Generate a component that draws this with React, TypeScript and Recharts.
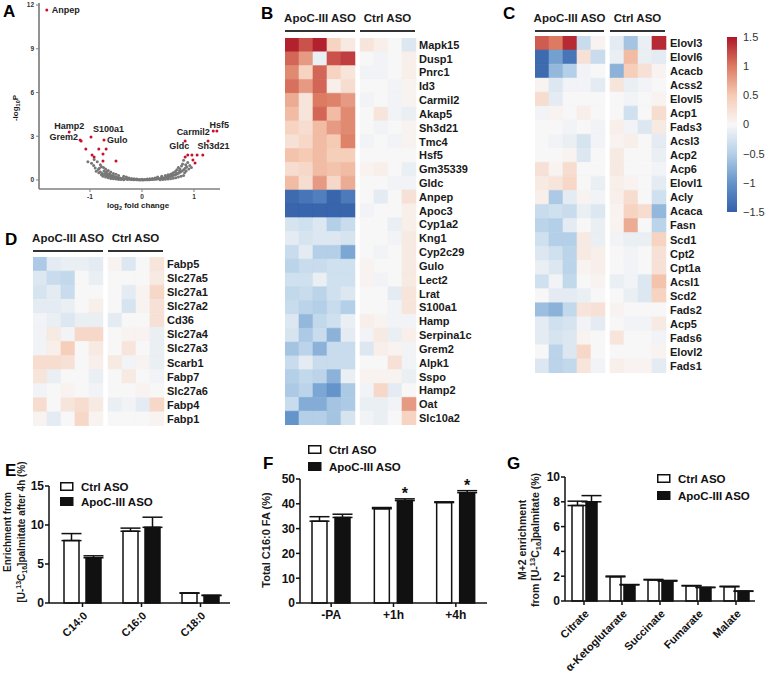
import React from 'react';
import { ScatterChart, Scatter, XAxis, YAxis, BarChart, Bar, Cell, ErrorBar, LabelList } from 'recharts';

const FONT = '"Liberation Sans", Arial, Helvetica, sans-serif';
const RED = '#c8102e';
const INK = '#111';

// ---------------- Panel A : volcano ----------------
const volcanoGrey: [number, number][] = [
  [-1.04, 1.25], [-0.97, 1.15], [-0.93, 1.0], [-0.9, 0.82], [-0.88, 0.6], [-0.84, 0.72], [-0.8, 0.55], [-0.78, 0.9],
  [-0.76, 0.45], [-0.73, 0.62], [-0.72, 0.38], [-0.7, 0.5], [-0.68, 0.3], [-0.66, 0.42], [-0.64, 0.26], [-0.62, 0.36],
  [-0.6, 0.22], [-0.58, 0.3], [-0.56, 0.18], [-0.54, 0.26], [-0.52, 0.15], [-0.5, 0.2], [-0.48, 0.12], [-0.46, 0.17],
  [-0.44, 0.1], [-0.42, 0.14], [-0.4, 0.08], [-0.37, 0.11], [-0.34, 0.06], [-0.31, 0.08], [-0.28, 0.04], [-0.25, 0.06],
  [-0.22, 0.03], [-0.19, 0.04], [-0.16, 0.02], [-0.13, 0.03], [-0.1, 0.01], [-0.07, 0.02], [-0.04, 0.0], [-0.01, 0.01],
  [0.02, 0.0], [0.05, 0.01], [0.08, 0.01], [0.11, 0.02], [0.14, 0.02], [0.17, 0.03], [0.2, 0.04], [0.23, 0.05],
  [0.26, 0.05], [0.29, 0.07], [0.32, 0.08], [0.35, 0.1], [0.38, 0.11], [0.41, 0.13], [0.44, 0.15], [0.47, 0.18],
  [0.5, 0.2], [0.53, 0.23], [0.56, 0.26], [0.59, 0.3], [0.62, 0.34], [0.65, 0.38], [0.68, 0.42], [0.71, 0.48],
  [0.74, 0.55], [0.77, 0.62], [0.8, 0.7], [0.83, 0.8], [0.86, 0.9],
  [0.45, 0.3], [0.5, 0.35], [0.55, 0.4], [0.6, 0.5], [0.64, 0.58], [0.67, 0.7], [0.7, 0.85], [0.73, 0.75],
  [0.76, 0.95], [0.78, 1.1], [0.8, 1.35], [0.84, 1.05], [0.88, 1.2], [0.92, 1.0], [0.95, 0.85], [0.9, 0.75],
  [-0.45, 0.3], [-0.5, 0.4], [-0.55, 0.45], [-0.6, 0.55], [-0.65, 0.65], [-0.7, 0.75], [-0.74, 0.85], [-0.8, 1.05],
  [-0.86, 1.25], [-0.92, 1.4], [-0.82, 0.8], [-0.3, 0.2], [-0.35, 0.25], [0.3, 0.2], [0.38, 0.25],
  [-0.2, 0.1], [-0.1, 0.06], [0.0, 0.05], [0.1, 0.06], [0.2, 0.1], [-0.25, 0.14], [0.25, 0.14], [-0.62, 0.45],
  [0.58, 0.42], [0.66, 0.5], [-0.68, 0.58], [0.72, 0.62],
  [-0.65, 0.15], [-0.6, 0.1], [-0.55, 0.08], [-0.5, 0.06], [-0.45, 0.04], [-0.4, 0.03], [-0.35, 0.02], [0.35, 0.02],
  [0.4, 0.03], [0.45, 0.05], [0.5, 0.07], [0.55, 0.09], [0.6, 0.12], [0.65, 0.16], [0.7, 0.2], [0.75, 0.25],
  [0.8, 0.3], [-0.7, 0.2], [-0.75, 0.25], [-0.3, 0.15], [0.3, 0.15], [-0.15, 0.08], [0.15, 0.08], [-0.05, 0.04],
  [0.05, 0.04], [0.82, 0.5], [0.85, 0.62], [-0.78, 0.35], [-0.83, 0.5],
];
const volcanoRed: [number, number][] = [
  [-1.17, 2.67], [1.37, 3.36], [-1.08, 2.13], [-0.83, 2.13], [-0.69, 2.13], [-0.96, 1.71], [-0.75, 1.78],
  [-0.92, 1.58], [-0.5, 1.3], [-0.75, 1.3], [0.88, 1.71], [0.96, 1.71], [1.06, 1.71], [1.17, 1.71],
  [0.98, 1.37], [1.02, 1.17],
];
const volcanoGenes = ['Anpep', 'Hamp2', 'Grem2', 'S100a1', 'Gulo', 'Carmil2', 'Gldc', 'Hsf5', 'Sh3d21'];
const volcanoGeneFC = [-1.83, -1.4, -1.19, -0.98, -0.73, 0.83, 0.83, 1.44, 1.27];
const volcanoGeneP = [11.66, 3.29, 2.74, 2.95, 2.74, 2.67, 1.58, 3.36, 2.67];
const labelPlacement: Record<string, { dx: number; dy: number; anchor: 'start' | 'middle' | 'end' }> = {
  Anpep: { dx: 5, dy: 0, anchor: 'start' },
  Hamp2: { dx: 0, dy: -6, anchor: 'middle' },
  Grem2: { dx: -2, dy: -3, anchor: 'end' },
  S100a1: { dx: 2, dy: -8, anchor: 'start' },
  Gulo: { dx: 3, dy: 0, anchor: 'start' },
  Carmil2: { dx: 8, dy: -9, anchor: 'middle' },
  Gldc: { dx: -6, dy: -11, anchor: 'middle' },
  Hsf5: { dx: 2.5, dy: -6, anchor: 'middle' },
  Sh3d21: { dx: 5.5, dy: 5, anchor: 'middle' },
};
const greyData = volcanoGrey.map(([x, y]) => ({ x, y }));
const redData = volcanoRed.map(([x, y]) => ({ x, y }));
const labelledData = volcanoGenes.map((gene, i) => ({ gene, x: volcanoGeneFC[i], y: volcanoGeneP[i] }));

// ---------------- Heatmaps (5 ApoC-III ASO | 4 Ctrl ASO) ----------------
const genesB = ['Mapk15', 'Dusp1', 'Pnrc1', 'Id3', 'Carmil2', 'Akap5', 'Sh3d21', 'Tmc4', 'Hsf5', 'Gm35339', 'Gldc',
  'Anpep', 'Apoc3', 'Cyp1a2', 'Kng1', 'Cyp2c29', 'Gulo', 'Lect2', 'Lrat', 'S100a1', 'Hamp', 'Serpina1c', 'Grem2',
  'Alpk1', 'Sspo', 'Hamp2', 'Oat', 'Slc10a2'];
const valuesB = [
  [1.45, 1.2, 1.45, 0.4, 0.15, 0.2, 0.1, 0.0, -0.2],
  [1.1, 0.8, -0.1, 1.2, 1.3, 0.0, -0.05, 0.0, 0.1],
  [0.9, 0.4, 1.1, 0.4, 0.2, -0.05, -0.05, 0.0, 0.1],
  [1.05, 0.8, 1.1, 0.1, 0.3, 0.0, 0.0, -0.05, 0.05],
  [0.7, 0.2, 1.0, 0.95, 0.8, -0.05, 0.0, -0.05, 0.05],
  [0.6, 0.2, 1.1, 0.6, 0.9, 0.0, 0.2, -0.05, -0.1],
  [0.4, 0.3, 0.6, 0.8, 0.9, 0.0, -0.05, 0.0, 0.05],
  [0.25, 0.35, 0.6, 0.5, 0.95, -0.05, 0.0, -0.05, 0.05],
  [0.55, 0.5, 0.6, 0.45, 0.45, 0.0, 0.0, 0.0, 0.0],
  [0.3, 0.35, 0.6, 0.55, 0.6, 0.05, 0.1, 0.0, -0.1],
  [0.6, 0.3, 0.8, 0.35, 0.7, 0.0, 0.0, -0.05, -0.05],
  [-1.4, -1.3, -1.2, -1.45, -1.25, 0.0, -0.15, 0.0, 0.25],
  [-1.45, -1.45, -1.45, -1.45, -1.45, -0.05, 0.0, 0.0, 0.1],
  [-0.25, -0.3, -0.2, -0.5, -0.35, 0.0, 0.0, -0.1, 0.1],
  [-0.15, -0.25, -0.2, -0.2, -0.25, 0.0, 0.0, -0.05, 0.15],
  [-0.35, -0.15, -0.5, -0.5, -0.85, 0.0, -0.05, 0.0, 0.15],
  [-0.45, -0.35, -0.35, -0.3, -0.3, 0.05, 0.0, 0.0, 0.15],
  [-0.3, -0.3, -0.1, -0.3, -0.3, 0.05, -0.05, 0.0, 0.15],
  [-0.4, -0.35, -0.45, -0.3, -0.2, 0.0, 0.0, -0.15, 0.2],
  [-0.35, -0.45, -0.5, -0.35, -0.5, 0.0, 0.0, -0.05, 0.2],
  [-0.2, -0.7, -0.4, -0.3, -0.1, 0.1, 0.05, -0.05, -0.05],
  [-0.25, -0.55, -0.35, -0.75, -0.15, -0.05, 0.15, -0.1, 0.1],
  [-0.6, -0.45, -0.75, -0.35, -0.35, -0.2, 0.1, 0.05, -0.05],
  [-0.35, -0.15, -0.35, -0.35, -0.35, 0.0, 0.0, 0.25, -0.05],
  [-0.5, -0.4, -0.45, -0.75, -0.1, 0.05, 0.05, 0.05, -0.1],
  [-0.55, -0.45, -0.85, -1.0, -0.55, -0.05, 0.35, -0.15, 0.0],
  [-0.35, -0.8, -0.8, -0.6, -0.55, -0.1, -0.1, -0.05, 0.8],
  [-1.0, -0.5, -0.5, -0.6, -0.25, -0.05, -0.1, 0.0, 0.4],
];
const genesC = ['Elovl3', 'Elovl6', 'Acacb', 'Acss2', 'Elovl5', 'Acp1', 'Fads3', 'Acsl3', 'Acp2', 'Acp6', 'Elovl1',
  'Acly', 'Acaca', 'Fasn', 'Scd1', 'Cpt2', 'Cpt1a', 'Acsl1', 'Scd2', 'Fads2', 'Acp5', 'Fads6', 'Elovl2', 'Fads1'];
const valuesC = [
  [1.15, 1.0, 1.4, -0.35, 0.05, -0.15, -0.6, -0.1, 1.4],
  [-1.4, -0.9, -1.3, 0.25, -0.35, -0.1, 0.6, -0.1, -0.15],
  [-1.4, -0.7, -0.5, -0.05, 0.0, -0.75, 0.45, 0.25, 0.05],
  [0.05, -0.2, -0.05, -0.05, -0.15, 0.2, -0.1, -0.05, 0.0],
  [0.3, -0.15, 0.0, 0.0, 0.0, 0.0, -0.05, 0.0, 0.05],
  [-0.05, 0.05, 0.0, 0.1, 0.0, 0.0, -0.3, 0.0, 0.3],
  [0.0, 0.0, -0.05, 0.0, -0.05, 0.1, -0.05, -0.2, 0.15],
  [0.0, -0.05, -0.1, -0.25, -0.05, 0.05, 0.1, 0.0, -0.15],
  [0.0, 0.0, 0.05, -0.2, 0.0, 0.15, 0.0, 0.0, -0.1],
  [0.25, 0.05, 0.3, 0.0, 0.0, 0.15, 0.0, 0.0, -0.05],
  [0.15, 0.2, 0.35, 0.0, -0.1, 0.1, 0.05, 0.0, -0.15],
  [0.1, -0.55, -0.15, 0.05, -0.05, 0.1, 0.3, 0.0, -0.3],
  [-0.35, -0.3, -0.35, -0.1, -0.2, 0.05, 0.4, 0.3, -0.7],
  [-0.45, -0.5, -0.15, 0.0, -0.1, 0.05, 0.7, 0.0, -0.45],
  [-0.3, -0.5, -0.5, 0.15, -0.1, -0.05, -0.1, -0.1, 0.4],
  [-0.2, -0.3, -0.45, 0.15, 0.1, 0.0, -0.05, 0.0, 0.25],
  [-0.1, -0.2, -0.45, 0.05, 0.1, 0.0, -0.05, 0.0, 0.25],
  [-0.3, -0.05, -0.4, 0.0, 0.05, -0.1, -0.05, -0.2, 0.55],
  [0.0, -0.15, -0.15, -0.1, 0.0, 0.0, -0.1, -0.2, 0.4],
  [-0.65, -0.75, -0.4, 0.2, 0.25, 0.05, 0.0, 0.0, 0.0],
  [-0.15, -0.3, -0.25, -0.05, -0.15, 0.0, -0.05, -0.05, 0.15],
  [-0.15, -0.25, -0.2, 0.05, 0.0, 0.2, 0.0, 0.0, -0.05],
  [0.0, -0.45, -0.2, 0.35, 0.0, 0.0, 0.0, 0.0, 0.05],
  [-0.2, -0.45, -0.4, 0.2, -0.05, 0.1, 0.05, 0.05, -0.15],
];
const genesD = ['Fabp5', 'Slc27a5', 'Slc27a1', 'Slc27a2', 'Cd36', 'Slc27a4', 'Slc27a3', 'Scarb1', 'Fabp7', 'Slc27a6', 'Fabp4', 'Fabp1'];
const valuesD = [
  [-0.55, -0.15, -0.1, -0.1, -0.15, 0.05, -0.2, 0.0, 0.2],
  [-0.2, -0.35, -0.4, 0.0, -0.1, 0.0, 0.0, 0.0, 0.15],
  [-0.25, -0.15, -0.35, 0.0, 0.0, 0.0, -0.15, 0.05, 0.35],
  [-0.15, -0.15, -0.1, 0.0, 0.1, 0.0, -0.25, 0.05, 0.25],
  [-0.05, -0.1, -0.2, -0.1, -0.1, -0.15, 0.0, 0.0, 0.25],
  [-0.05, 0.15, -0.05, 0.35, 0.35, 0.0, 0.05, 0.05, -0.1],
  [-0.05, 0.1, 0.45, 0.0, 0.15, 0.0, 0.2, 0.0, -0.1],
  [0.3, 0.3, 0.25, 0.0, 0.1, 0.15, -0.05, 0.05, -0.1],
  [0.2, -0.1, 0.0, 0.0, -0.1, 0.0, 0.15, 0.0, -0.05],
  [-0.05, 0.0, 0.05, 0.0, -0.05, 0.0, 0.0, 0.05, 0.0],
  [0.3, 0.0, 0.2, 0.3, 0.15, -0.1, -0.05, -0.15, 0.35],
  [0.05, -0.15, 0.0, 0.35, 0.05, 0.0, 0.0, 0.0, 0.05],
];
const colorbarTicks = [1.5, 1, 0.5, 0, -0.5, -1, -1.5];

// ---------------- Panel E ----------------
const eCats = ['C14:0', 'C16:0', 'C18:0'];
const eCtrl = [8.0, 9.2, 1.25];
const eCtrlSem = [0.9, 0.4, 0.05];
const eApoc = [5.8, 9.7, 0.95];
const eApocSem = [0.25, 1.3, 0.05];
const eTicks = [0, 5, 10, 15];
// ---------------- Panel F ----------------
const fCats = ['-PA', '+1h', '+4h'];
const fCtrl = [33.0, 38.0, 40.5];
const fCtrlSem = [1.8, 0.5, 0.3];
const fApoc = [34.5, 41.3, 44.5];
const fApocSem = [1.3, 0.7, 0.8];
const fSig = [false, true, true];
const fTicks = [0, 10, 20, 30, 40, 50];
// ---------------- Panel G ----------------
const gCats = ['Citrate', 'α-Ketoglutarate', 'Succinate', 'Fumarate', 'Malate'];
const gCtrl = [7.7, 1.95, 1.7, 1.22, 1.15];
const gCtrlSem = [0.35, 0.06, 0.04, 0.03, 0.04];
const gApoc = [8.0, 1.3, 1.6, 1.08, 0.78];
const gApocSem = [0.5, 0.03, 0.06, 0.03, 0.03];
const gTicks = [0, 2, 4, 6, 8, 10];
const legendNames = ['Ctrl ASO', 'ApoC-III ASO'];

// ---------------- helpers ----------------
const STOPS: [number, number[]][] = [
  [-1.5, [52, 96, 170]],
  [-1.0, [100, 148, 202]],
  [-0.5, [180, 208, 232]],
  [0, [248, 247, 247]],
  [0.5, [246, 203, 180]],
  [1.0, [220, 122, 98]],
  [1.5, [174, 22, 40]],
];
function heatColor(v: number): string {
  const t = Math.max(-1.5, Math.min(1.5, v));
  for (let i = 0; i < STOPS.length - 1; i++) {
    const [a, ca] = STOPS[i];
    const [b, cb] = STOPS[i + 1];
    if (t >= a && t <= b) {
      const f = (t - a) / (b - a);
      const c = ca.map((x, k) => Math.round(x + (cb[k] - x) * f));
      return `rgb(${c[0]},${c[1]},${c[2]})`;
    }
  }
  return 'rgb(248,247,247)';
}

const GAP = 0.36;
const COLS = ['c0', 'c1', 'c2', 'c3', 'c4', 'gap', 'c5', 'c6', 'c7', 'c8'];
const COL_INDEX: Record<string, number> = { c0: 0, c1: 1, c2: 2, c3: 3, c4: 4, c5: 5, c6: 6, c7: 7, c8: 8 };

function Heatmap(props: { genes: string[]; values: number[][]; left: number; top: number; plotW: number; plotH: number; labelW: number; labelGap: number }) {
  const { genes, values, left, top, plotW, plotH, labelW, labelGap } = props;
  const rows = genes.map((g) => ({ gene: g, c0: 1, c1: 1, c2: 1, c3: 1, c4: 1, gap: GAP, c5: 1, c6: 1, c7: 1, c8: 1 }));
  return (
    <div style={{ position: 'absolute', left, top }}>
      <BarChart width={plotW + labelW} height={plotH} data={rows} layout="vertical"
        margin={{ top: 0, right: 0, bottom: 0, left: 0 }} barCategoryGap={0} barGap={0}>
        <XAxis type="number" hide domain={[0, 9 + GAP]} />
        <YAxis type="category" dataKey="gene" orientation="right" width={labelW} axisLine={false} tickLine={false}
          tickSize={0} tickMargin={labelGap} interval={0}
          tick={{ fontSize: 11, fontWeight: 700, fill: '#1a1a1a', fontFamily: FONT }} />
        {COLS.map((k) => (
          <Bar key={k} dataKey={k} stackId="h" isAnimationActive={false}>
            {rows.map((_, j) => {
              if (k === 'gap') return <Cell key={j} fill="none" stroke="none" />;
              const fill = heatColor(values[j][COL_INDEX[k]]);
              return <Cell key={j} fill={fill} stroke={fill} strokeWidth={0.6} />;
            })}
          </Bar>
        ))}
      </BarChart>
    </div>
  );
}

const dot = (fill: string, r: number) => (p: any) => <circle cx={p.cx} cy={p.cy} r={r} fill={fill} />;
const LabelledDot = (p: any) => {
  const pl = labelPlacement[p.payload.gene];
  return (
    <g>
      <circle cx={p.cx} cy={p.cy} r={1.5} fill={RED} />
      <text x={p.cx + pl.dx} y={p.cy + pl.dy} textAnchor={pl.anchor} dominantBaseline="central"
        fontSize={9} fontWeight={700} fill="#222" fontFamily={FONT}>{p.payload.gene}</text>
    </g>
  );
};

function LegendBox({ x, y, gap }: { x: number; y: number; gap: number }) {
  return (
    <g transform={`translate(${x},${y})`}>
      <rect x={0.75} y={0.75} width={12} height={7.5} fill="#fff" stroke={INK} strokeWidth={1.5} />
      <text x={21} y={8.5} fontSize={11.5} fontWeight={700} fill={INK} fontFamily={FONT}>{legendNames[0]}</text>
      <rect x={0.75} y={gap + 0.75} width={12} height={7.5} fill={INK} stroke={INK} strokeWidth={1.5} />
      <text x={21} y={gap + 8.5} fontSize={11.5} fontWeight={700} fill={INK} fontFamily={FONT}>{legendNames[1]}</text>
    </g>
  );
}

const starContent = (p: any) => {
  if (!p.value) return null;
  return (
    <text x={p.x + p.width / 2} y={p.y - 2} textAnchor="middle" fontSize={16} fontWeight={700} fill={INK} fontFamily={FONT}>*</text>
  );
};

const YTick = (p: any) => (
  <text x={p.x} y={p.y} dy="0.36em" textAnchor="end" fontSize={12} fontWeight={700} fill={INK} fontFamily={FONT}>
    {p.payload.value}
  </text>
);

function BarPanel(props: {
  left: number; top: number; width: number; height: number;
  margin: { top: number; right: number; bottom: number; left: number };
  yWidth: number; xHeight: number; domain: [number, number]; ticks: number[];
  cats: string[]; ctrl: number[]; ctrlSem: number[]; apoc: number[]; apocSem: number[]; sig?: boolean[];
  barSize: number; barGap: number; padLeft: number; rotated: boolean;
}) {
  const p = props;
  const rows = p.cats.map((c, i) => ({
    cat: c,
    ctrl: p.ctrl[i], ctrlErr: [0, p.ctrlSem[i]],
    apoc: p.apoc[i], apocErr: [0, p.apocSem[i]],
    star: p.sig && p.sig[i] ? '*' : '',
  }));
  const axisStyle = { stroke: INK, strokeWidth: 1.5 };
  const tickStyle = { fontSize: p.rotated ? 11 : 12, fontWeight: 700, fill: INK, fontFamily: FONT };
  return (
    <div style={{ position: 'absolute', left: p.left, top: p.top }}>
      <BarChart width={p.width} height={p.height} data={rows} margin={p.margin} barSize={p.barSize} barGap={p.barGap}>
        <XAxis dataKey="cat" height={p.xHeight} padding={{ left: p.padLeft, right: 0 }}
          axisLine={axisStyle} tickLine={axisStyle} tickSize={4} tickMargin={p.rotated ? 4 : 3} interval={0}
          angle={p.rotated ? -45 : 0} textAnchor={p.rotated ? 'end' : 'middle'} tick={tickStyle} />
        <YAxis domain={p.domain} ticks={p.ticks} width={p.yWidth} axisLine={axisStyle} tickLine={axisStyle}
          tickSize={4} tickMargin={1} interval={0} tick={YTick} />
        <Bar dataKey="ctrl" barSize={p.barSize} fill="#fff" stroke={INK} strokeWidth={1.5} isAnimationActive={false}>
          <ErrorBar dataKey="ctrlErr" width={10} stroke={INK} strokeWidth={1.5} direction="y" />
        </Bar>
        <Bar dataKey="apoc" barSize={p.barSize} fill={INK} stroke={INK} strokeWidth={1.5} isAnimationActive={false}>
          <ErrorBar dataKey="apocErr" width={10} stroke={INK} strokeWidth={1.5} direction="y" />
          {p.sig ? <LabelList dataKey="star" content={starContent} /> : null}
        </Bar>
      </BarChart>
    </div>
  );
}

const T = { fontFamily: FONT, fontWeight: 700, fill: '#1a1a1a' } as const;

function Header({ x1, x2, x3, x4, y }: { x1: number; x2: number; x3: number; x4: number; y: number }) {
  return (
    <g>
      <text x={(x1 + x2) / 2} y={y - 9} textAnchor="middle" fontSize={11.5} {...T}>ApoC-III ASO</text>
      <line x1={x1} x2={x2} y1={y} y2={y} stroke="#333" strokeWidth={2} />
      <text x={(x3 + x4) / 2} y={y - 9} textAnchor="middle" fontSize={11.5} {...T}>Ctrl ASO</text>
      <line x1={x3} x2={x4} y1={y} y2={y} stroke="#333" strokeWidth={2} />
    </g>
  );
}

export default function App() {
  const gradStops = [...STOPS].reverse().map(([v], i) => (
    <stop key={i} offset={`${((1.5 - v) / 3) * 100}%`} stopColor={heatColor(v)} />
  ));
  const axisGrey = { stroke: '#808080', strokeWidth: 1.7 };
  return (
    <div style={{ position: 'absolute', left: 0, top: 0, width: 766, height: 680, background: '#fff', fontFamily: FONT, overflow: 'hidden' }}>
      {/* Panel A */}
      <div style={{ position: 'absolute', left: 0, top: 0 }}>
        <ScatterChart width={230} height={215} margin={{ top: 3, right: 10, bottom: 0, left: 25 }} style={{ overflow: 'visible' }}>
          <XAxis type="number" dataKey="x" domain={[-1.98, 1.5]} ticks={[-1, 0, 1]} height={26}
            tickSize={3} tickMargin={2} axisLine={axisGrey} tickLine={{ stroke: '#808080', strokeWidth: 1 }}
            tick={{ fontSize: 6.5, fontWeight: 700, fill: '#333', fontFamily: FONT }} />
          <YAxis type="number" dataKey="y" domain={[-0.62, 12.14]} ticks={[0, 3, 6, 9, 12]} width={14}
            tickSize={3} tickMargin={2} axisLine={axisGrey} tickLine={{ stroke: '#808080', strokeWidth: 1 }}
            tick={{ fontSize: 6.5, fontWeight: 700, fill: '#333', fontFamily: FONT }} />
          <Scatter data={greyData} shape={dot('#777', 1.5)} isAnimationActive={false} />
          <Scatter data={redData} shape={dot(RED, 1.5)} isAnimationActive={false} />
          <Scatter data={labelledData} shape={LabelledDot} isAnimationActive={false} />
        </ScatterChart>
      </div>

      <Heatmap genes={genesB} values={valuesB} left={285} top={38} plotW={131} plotH={387} labelW={80} labelGap={3} />
      <Heatmap genes={genesC} values={valuesC} left={535} top={36} plotW={131} plotH={337} labelW={60} labelGap={4} />
      <Heatmap genes={genesD} values={valuesD} left={33} top={257} plotW={131} plotH={169} labelW={70} labelGap={3} />

      {/* colour key */}
      <div style={{ position: 'absolute', left: 727, top: 30 }}>
        <BarChart width={39} height={189} data={[{ k: 'key', r: [-1.5, 1.5] }]} margin={{ top: 7, right: 0, bottom: 7, left: 0 }} barCategoryGap={0}>
          <defs>
            <linearGradient id="cbGrad" x1="0" y1="0" x2="0" y2="1">{gradStops}</linearGradient>
          </defs>
          <XAxis type="category" dataKey="k" hide />
          <YAxis type="number" domain={[-1.5, 1.5]} ticks={colorbarTicks} orientation="right" width={29}
            axisLine={false} tickLine={false} tickSize={4} tickMargin={2} interval={0}
            tickFormatter={(v: number) => (v < 0 ? '\u2212' + Math.abs(v) : String(v))}
            tick={{ fontSize: 11, fill: '#333', fontFamily: FONT }} />
          <Bar dataKey="r" fill="url(#cbGrad)" isAnimationActive={false} />
        </BarChart>
      </div>

      <BarPanel left={0} top={470} width={240} height={210} margin={{ top: 16, right: 10, bottom: 0, left: 19 }}
        yWidth={30} xHeight={77} domain={[0, 15]} ticks={eTicks} cats={eCats} ctrl={eCtrl} ctrlSem={eCtrlSem}
        apoc={eApoc} apocSem={eApocSem} barSize={15} barGap={7} padLeft={4} rotated />
      <BarPanel left={250} top={440} width={250} height={240} margin={{ top: 39, right: 13, bottom: 0, left: 20 }}
        yWidth={30} xHeight={77} domain={[0, 50]} ticks={fTicks} cats={fCats} ctrl={fCtrl} ctrlSem={fCtrlSem}
        apoc={fApoc} apocSem={fApocSem} sig={fSig} barSize={15} barGap={8} padLeft={0} rotated={false} />
      <BarPanel left={500} top={440} width={266} height={240} margin={{ top: 37, right: 11, bottom: 0, left: 35 }}
        yWidth={30} xHeight={79} domain={[0, 10]} ticks={gTicks} cats={gCats} ctrl={gCtrl} ctrlSem={gCtrlSem}
        apoc={gApoc} apocSem={gApocSem} barSize={11} barGap={3} padLeft={0} rotated />

      {/* text overlay */}
      <svg width={766} height={680} style={{ position: 'absolute', left: 0, top: 0, pointerEvents: 'none' }}>
        <text x={3} y={17} fontSize={17} {...T} fill="#000">A</text>
        <text x={261} y={19} fontSize={17} {...T} fill="#000">B</text>
        <text x={503} y={19} fontSize={17} {...T} fill="#000">C</text>
        <text x={5} y={245} fontSize={17} {...T} fill="#000">D</text>
        <text x={5} y={476} fontSize={17} {...T} fill="#000">E</text>
        <text x={263} y={469} fontSize={17} {...T} fill="#000">F</text>
        <text x={507} y={469} fontSize={17} {...T} fill="#000">G</text>

        <text transform="translate(18,108) rotate(-90)" textAnchor="middle" fontSize={8} {...T}>
          -log<tspan fontSize={5.5} dy={2}>10</tspan><tspan dy={-2}>P</tspan>
        </text>
        <text x={138} y={208} textAnchor="middle" fontSize={8} {...T}>
          log<tspan fontSize={5.5} dy={2}>2</tspan><tspan dy={-2}> fold change</tspan>
        </text>

        <Header x1={285} x2={355} x3={360} x4={415} y={31} />
        <Header x1={535} x2={604} x3={610} x4={665} y={31} />
        <Header x1={33} x2={103} x3={108} x4={163} y={251} />

        <LegendBox x={60} y={482} gap={15} />
        <LegendBox x={308} y={445} gap={17} />
        <LegendBox x={657} y={474} gap={17} />

        <text transform="translate(11,532) rotate(-90)" textAnchor="middle" fontSize={10} {...T}>Enrichment from</text>
        <text transform="translate(25,532) rotate(-90)" textAnchor="middle" fontSize={10} {...T}>
          [U-<tspan fontSize={7} dy={-4}>13</tspan><tspan dy={4}>C</tspan><tspan fontSize={7} dy={2}>16</tspan><tspan dy={-2}>]palmitate after 4h (%)</tspan>
        </text>
        <text transform="translate(270,540) rotate(-90)" textAnchor="middle" fontSize={11} {...T}>Total C16:0 FA (%)</text>
        <text transform="translate(526,540) rotate(-90)" textAnchor="middle" fontSize={10.5} {...T}>M+2 enrichment</text>
        <text transform="translate(539,540) rotate(-90)" textAnchor="middle" fontSize={10.5} {...T}>
          from [U-<tspan fontSize={7.5} dy={-4}>13</tspan><tspan dy={4}>C</tspan><tspan fontSize={7.5} dy={2}>16</tspan><tspan dy={-2}>]palmitate (%)</tspan>
        </text>
      </svg>
    </div>
  );
}
